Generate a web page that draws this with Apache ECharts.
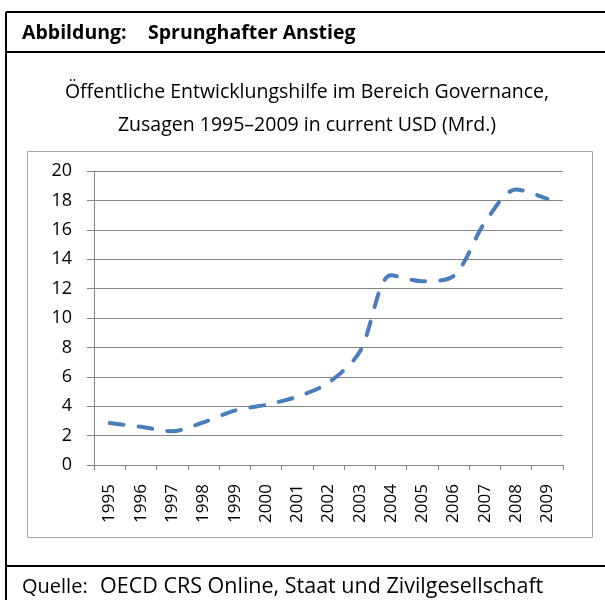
<!DOCTYPE html>
<html>
<head>
<meta charset="utf-8">
<script src="https://cdn.jsdelivr.net/npm/echarts@6/dist/echarts.min.js"></script>
<style>
  html, body { margin: 0; padding: 0; background: #fff; }
  #chart { width: 605px; height: 600px; }
</style>
</head>
<body>
<div id="chart"></div>
<script>
// Jahre und Zusagen (Mrd. USD)
const years = ['1995', '1996', '1997', '1998', '1999', '2000', '2001', '2002',
  '2003', '2004', '2005', '2006', '2007', '2008', '2009']
const commitments = [2.85, 2.6, 2.3, 2.9, 3.7, 4.1, 4.65, 5.6, 7.7, 12.9, 12.5, 12.85, 16.5, 18.75, 18.1]
const yTicks = [0, 20, 2] // min, max, interval

const headerLabel = 'Abbildung:'
const headerText = 'Sprunghafter Anstieg'
const titleLines = ['Öffentliche Entwicklungshilfe im Bereich Governance,', 'Zusagen 1995–2009 in current USD (Mrd.)']
const sourceLabel = 'Quelle:'
const sourceText = 'OECD CRS Online, Staat und Zivilgesellschaft'

const chart = echarts.init(document.getElementById('chart'))
const font = '"Open Sans", sans-serif'

const option = {
  animation: false,
  textStyle: { fontFamily: font },
  graphic: [
    // Rahmen aussen
    { type: 'line', shape: { x1: 6, y1: 12, x2: 6, y2: 600 }, style: { stroke: '#000', lineWidth: 2 } },
    { type: 'line', shape: { x1: 6, y1: 12, x2: 605, y2: 12 }, style: { stroke: '#000', lineWidth: 2 } },
    { type: 'line', shape: { x1: 6, y1: 52, x2: 605, y2: 52 }, style: { stroke: '#000', lineWidth: 2 } },
    { type: 'line', shape: { x1: 6, y1: 566, x2: 605, y2: 566 }, style: { stroke: '#000', lineWidth: 2 } },
    // Rahmen Diagramm
    { type: 'rect', shape: { x: 27.5, y: 151.5, width: 565, height: 386 }, style: { fill: null, stroke: '#a6a6a6', lineWidth: 1 } },
    { type: 'text', x: 22, y: 33, style: { text: headerLabel, font: 'bold 19.5px ' + font, fill: '#000', verticalAlign: 'middle' } },
    { type: 'text', x: 148, y: 33, style: { text: headerText, font: 'bold 19.5px ' + font, fill: '#000', verticalAlign: 'middle' } },
    { type: 'text', x: 307, y: 92, style: { text: titleLines[0], font: '19.5px ' + font, fill: '#000', align: 'center', verticalAlign: 'middle' } },
    { type: 'text', x: 307, y: 125, style: { text: titleLines[1], font: '19.5px ' + font, fill: '#000', align: 'center', verticalAlign: 'middle' } },
    { type: 'text', x: 22, y: 587, style: { text: sourceLabel, font: '20px ' + font, fill: '#000', verticalAlign: 'middle' } },
    { type: 'text', x: 100, y: 587, style: { text: sourceText, font: '21.5px ' + font, fill: '#000', verticalAlign: 'middle' } }
  ],
  grid: { left: 94, right: 42, top: 171, bottom: 135 },
  xAxis: {
    type: 'category',
    data: years,
    boundaryGap: true,
    axisLine: { lineStyle: { color: '#868686', width: 1 } },
    axisTick: { show: true, length: 5, lineStyle: { color: '#868686' } },
    axisLabel: { rotate: 90, color: '#000', fontSize: 17, margin: 19, interval: 0 }
  },
  yAxis: {
    type: 'value',
    min: yTicks[0],
    max: yTicks[1],
    interval: yTicks[2],
    axisLine: { show: true, lineStyle: { color: '#868686', width: 1 } },
    axisTick: { show: true, length: 7, inside: false, lineStyle: { color: '#868686' } },
    axisLabel: { color: '#000', fontSize: 18, margin: 22 },
    splitLine: { lineStyle: { color: '#868686', width: 1 } }
  },
  series: [{
    type: 'line',
    data: commitments,
    smooth: 0.3,
    symbol: 'none',
    lineStyle: { color: '#4a7ebb', width: 4, type: [14, 15], cap: 'round' }
  }]
}
chart.setOption(option)
</script>
</body>
</html>
